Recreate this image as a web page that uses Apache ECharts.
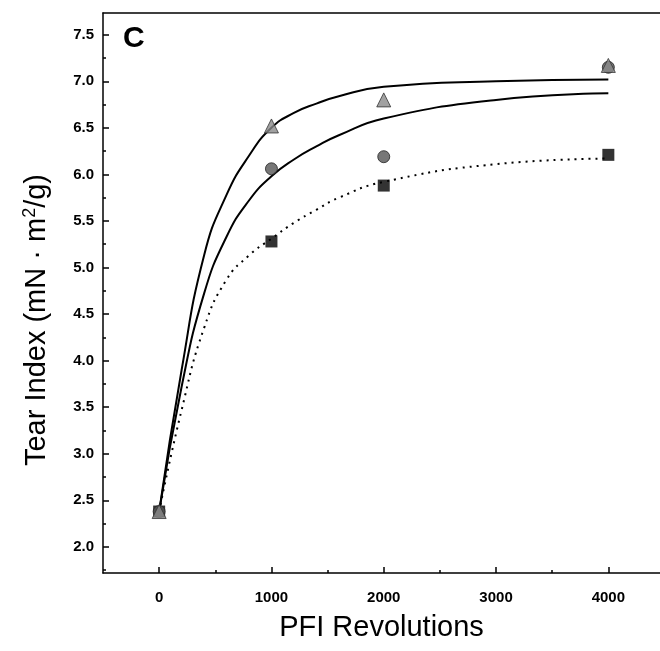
<!DOCTYPE html>
<html>
<head>
<meta charset="utf-8">
<script src="https://cdn.jsdelivr.net/npm/echarts@6/dist/echarts.min.js"></script>
<style>
	html, body { margin: 0; padding: 0; background: #fff; }
	#chart { width: 660px; height: 651px; }
</style>
</head>
<body>
<div id="chart"></div>
<script>
// measured points
const markerX = [0, 1000, 2000, 4000]
const triangleY = [2.38, 6.52, 6.80, 7.17]
const circleY = [2.38, 6.06, 6.19, 7.15]
const squareY = [2.38, 5.28, 5.88, 6.21]

// fitted curves at these revolutions
const fitX = [0, 200, 400, 600, 800, 1000, 1200, 1400, 1600, 2000, 3000, 4000]
const topFitY = [2.38, 3.90, 5.13, 5.78, 6.20, 6.50, 6.66, 6.76, 6.84, 6.94, 7.00, 7.02]
const midFitY = [2.38, 3.72, 4.72, 5.33, 5.72, 5.98, 6.16, 6.30, 6.42, 6.60, 6.80, 6.87]
const dotFitY = [2.38, 3.47, 4.35, 4.87, 5.13, 5.31, 5.48, 5.62, 5.75, 5.92, 6.11, 6.17]

const yTicks = [2.0, 2.5, 3.0, 3.5, 4.0, 4.5, 5.0, 5.5, 6.0, 6.5, 7.0, 7.5]
const yMinorTicks = [1.75, 2.25, 2.75, 3.25, 3.75, 4.25, 4.75, 5.25, 5.75, 6.25, 6.75, 7.25]
const xTicks = [0, 1000, 2000, 3000, 4000]
const xMinorTicks = [500, 1500, 2500, 3500]

const zip = (xs, ys) => xs.map((x, i) => [x, ys[i]])

const chart = echarts.init(document.getElementById('chart'))
const font = 'Liberation Sans, Arial, sans-serif'
const yMin = 1.72, yMax = 7.733, xMin = -500, xMax = 4460

chart.setOption({
	animation: false,
	grid: { left: 103, right: 0, top: 13, bottom: 78 },
	xAxis: [
		{
			type: 'value', min: xMin, max: xMax, position: 'bottom',
			name: 'PFI Revolutions', nameLocation: 'middle', nameGap: 40,
			nameTextStyle: { fontFamily: font, fontSize: 29, color: '#000' },
			axisLine: { onZero: false, lineStyle: { color: '#000', width: 1.5 } },
			axisTick: { inside: true, length: 6, customValues: xTicks, lineStyle: { color: '#000', width: 1.5 } },
			axisLabel: {
				customValues: xTicks, margin: 17, fontFamily: font, fontSize: 15, fontWeight: 'bold', color: '#000',
				formatter: v => String(v)
			},
			splitLine: { show: false }
		},
		{
			type: 'value', min: xMin, max: xMax, position: 'bottom',
			axisLine: { show: false, onZero: false },
			axisTick: { inside: true, length: 3, customValues: xMinorTicks, lineStyle: { color: '#000', width: 1.5 } },
			axisLabel: { show: false },
			splitLine: { show: false }
		},
		{
			type: 'value', min: xMin, max: xMax, position: 'top',
			axisLine: { onZero: false, lineStyle: { color: '#000', width: 1.5 } },
			axisTick: { show: false },
			axisLabel: { show: false },
			splitLine: { show: false }
		}
	],
	yAxis: [
		{
			type: 'value', min: yMin, max: yMax, position: 'left',
			name: 'Tear Index (mN · m{sup|2}/g)', nameLocation: 'middle', nameGap: 50, nameRotate: 90,
			nameTextStyle: {
				fontFamily: font, fontSize: 29, color: '#000', padding: [0, 54, 0, 0],
				rich: { sup: { fontFamily: font, fontSize: 18, color: '#000', verticalAlign: 'top', padding: [0, 0, 14, 0] } }
			},
			axisLine: { onZero: false, lineStyle: { color: '#000', width: 1.5 } },
			axisTick: { inside: true, length: 6, customValues: yTicks, lineStyle: { color: '#000', width: 1.5 } },
			axisLabel: {
				customValues: yTicks, margin: 9, fontFamily: font, fontSize: 15, fontWeight: 'bold', color: '#000',
				formatter: v => v.toFixed(1)
			},
			splitLine: { show: false }
		},
		{
			type: 'value', min: yMin, max: yMax, position: 'left',
			axisLine: { show: false, onZero: false },
			axisTick: { inside: true, length: 3, customValues: yMinorTicks, lineStyle: { color: '#000', width: 1.5 } },
			axisLabel: { show: false },
			splitLine: { show: false }
		}
	],
	graphic: [
		{ type: 'text', left: 123, top: 24, style: { text: 'C', font: 'bold 30px ' + font, fill: '#000' } }
	],
	series: [
		{
			type: 'line', data: zip(fitX, topFitY), smooth: 0.5, showSymbol: false,
			lineStyle: { color: '#000', width: 2 }, z: 2
		},
		{
			type: 'line', data: zip(fitX, midFitY), smooth: 0.5, showSymbol: false,
			lineStyle: { color: '#000', width: 2 }, z: 2
		},
		{
			type: 'line', data: zip(fitX, dotFitY), smooth: 0.5, showSymbol: false,
			lineStyle: { color: '#000', width: 2, type: [2, 5] }, z: 2
		},
		{
			type: 'scatter', data: zip(markerX, squareY), symbol: 'rect', symbolSize: 12,
			itemStyle: { color: '#000' }, z: 3
		},
		{
			type: 'scatter', data: zip(markerX, circleY), symbol: 'circle', symbolSize: 12,
			itemStyle: { color: '#555', borderColor: '#222', borderWidth: 1 }, z: 3
		},
		{
			type: 'scatter', data: zip(markerX, triangleY), symbol: 'triangle', symbolSize: 14,
			itemStyle: { color: '#8a8a8a', borderColor: '#333', borderWidth: 1 }, z: 4
		}
	]
})
</script>
</body>
</html>
